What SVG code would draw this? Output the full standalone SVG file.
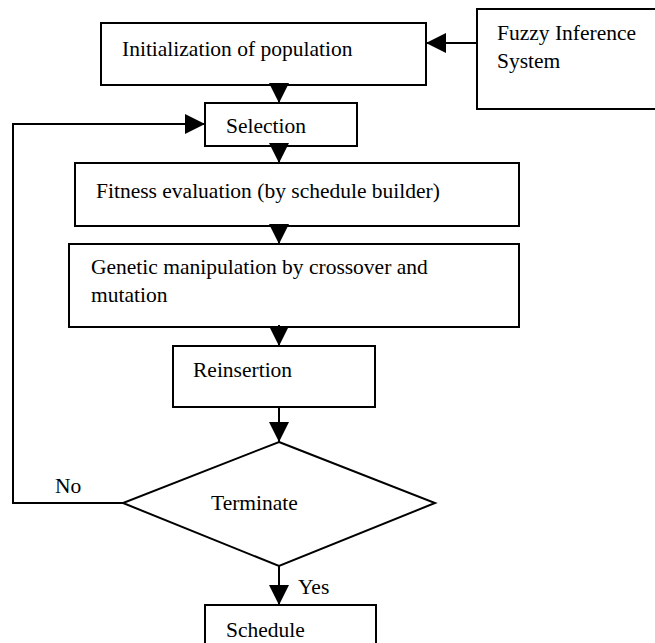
<svg xmlns="http://www.w3.org/2000/svg" width="655" height="643" viewBox="0 0 655 643">
<style>
.box{fill:#fff;stroke:#000;stroke-width:2}
.t{font-family:"Liberation Serif","Times New Roman",serif;font-size:21.5px;fill:#000}
.c{fill:none;stroke:#000;stroke-width:2}
</style>
<defs>
<marker id="ah" viewBox="0 0 20 20" refX="20" refY="10" markerWidth="20" markerHeight="20" markerUnits="userSpaceOnUse" orient="auto">
<path d="M0,0 L20,10 L0,20 z" fill="#000"/>
</marker>
</defs>
<rect width="655" height="643" fill="#fff"/>
<g id="init"><rect class="box" x="101" y="23" width="325" height="62"/><text class="t" x="122" y="56">Initialization of population</text></g>
<g id="fuzzy"><rect class="box" x="477" y="9" width="200" height="100"/><text class="t" x="497" y="40">Fuzzy Inference</text><text class="t" x="497" y="68">System</text></g>
<g id="selection"><rect class="box" x="205" y="103" width="152" height="43"/><text class="t" x="226" y="133">Selection</text></g>
<g id="fitness"><rect class="box" x="75" y="163" width="444" height="63"/><text class="t" x="96" y="198">Fitness evaluation (by schedule builder)</text></g>
<g id="genetic"><rect class="box" x="69" y="244" width="450" height="83"/><text class="t" x="91" y="274">Genetic manipulation by crossover and</text><text class="t" x="91" y="302">mutation</text></g>
<g id="reinsertion"><rect class="box" x="173" y="346" width="202" height="61"/><text class="t" x="193" y="377">Reinsertion</text></g>
<g id="terminate"><polygon class="box" points="279,442 435,503 279,566 123,503"/><text class="t" x="211" y="510">Terminate</text></g>
<g id="schedule"><rect class="box" x="205" y="605" width="171" height="60"/><text class="t" x="226" y="637">Schedule</text></g>
<g id="connectors">
<line class="c" x1="477" y1="43" x2="426" y2="43" marker-end="url(#ah)"/>
<line class="c" x1="279" y1="83" x2="279" y2="103" marker-end="url(#ah)"/>
<line class="c" x1="279" y1="143" x2="279" y2="163" marker-end="url(#ah)"/>
<line class="c" x1="279" y1="224" x2="279" y2="244" marker-end="url(#ah)"/>
<line class="c" x1="279" y1="325" x2="279" y2="346" marker-end="url(#ah)"/>
<line class="c" x1="279" y1="407" x2="279" y2="442" marker-end="url(#ah)"/>
<line class="c" x1="279" y1="566" x2="279" y2="605" marker-end="url(#ah)"/>
<polyline class="c" points="123,503 13,503 13,124 205,124" marker-end="url(#ah)"/>
<text class="t" x="55" y="493">No</text>
<text class="t" x="298" y="594">Yes</text>
</g>
</svg>
